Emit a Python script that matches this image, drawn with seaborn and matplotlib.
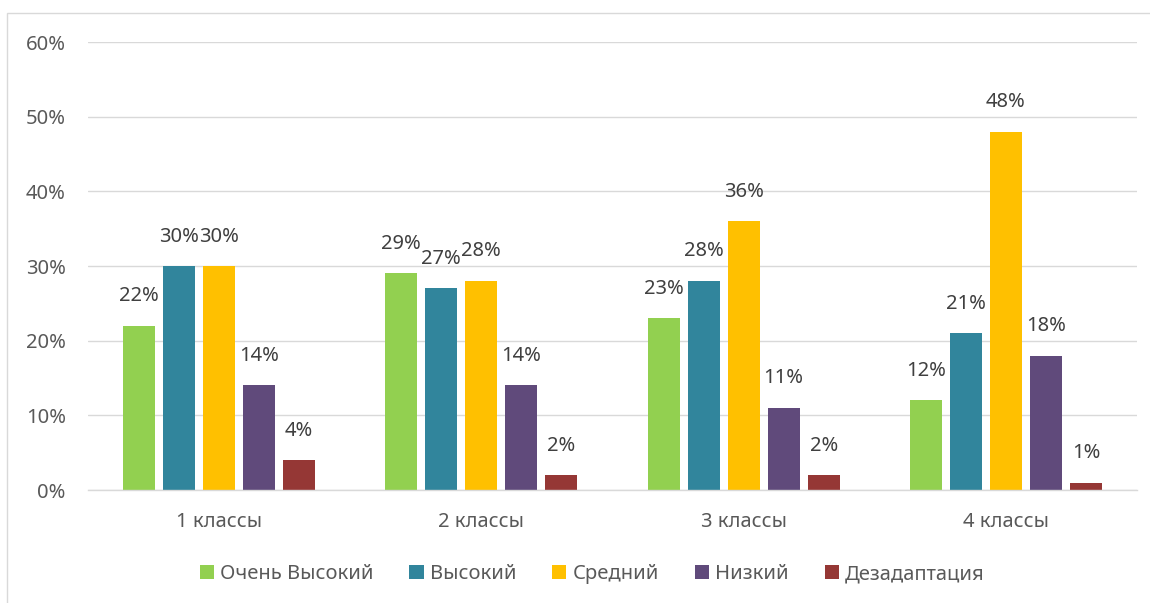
import numpy as np
import pandas as pd
import matplotlib
matplotlib.use("Agg")
import matplotlib.pyplot as plt
from matplotlib.patches import Rectangle
from matplotlib.ticker import FixedLocator, FuncFormatter
import seaborn as sns

# ---- data ----
classes = ["1 классы", "2 классы", "3 классы", "4 классы"]
levels = ["Очень Высокий", "Высокий", "Средний", "Низкий", "Дезадаптация"]
very_high = [22, 29, 23, 12]
high = [30, 27, 28, 21]
medium = [30, 28, 36, 48]
low = [14, 14, 11, 18]
maladapt = [4, 2, 2, 1]
colors = ["#92D050", "#31859C", "#FFC000", "#604A7B", "#953735"]

series = [very_high, high, medium, low, maladapt]
df = pd.DataFrame(
    [(c, lv, v) for lv, vals in zip(levels, series) for c, v in zip(classes, vals)],
    columns=["cls", "level", "value"],
)

sns.set_theme(style="white")
plt.rcParams["font.family"] = ["Noto Sans", "DejaVu Sans"]

FS = 14.5

fig = plt.figure(figsize=(11.5, 6.03), dpi=100)
ax = fig.add_axes([88 / 1150, 1 - 490 / 603, (1137 - 88) / 1150, (490 - 42) / 603])

sns.barplot(
    data=df, x="cls", y="value", hue="level",
    order=classes, hue_order=levels, palette=colors,
    width=0.763, gap=0.2, saturation=1, legend=True, ax=ax,
    linewidth=0, edgecolor="none",
)

for cont in ax.containers:
    ax.bar_label(cont, labels=[f"{v:.0f}%" for v in cont.datavalues],
                 padding=14, fontsize=FS, color="#404040")

ax.set_ylim(0, 60)
ax.set_xlim(-0.5, 3.5)
ax.set_yticks(np.arange(0, 61, 10))
ax.yaxis.set_major_formatter(FuncFormatter(lambda v, p: f"{v:.0f}%"))
ax.grid(axis="y", color="#d9d9d9", linewidth=1)
ax.set_axisbelow(True)
ax.set_xlabel("")
ax.set_ylabel("")

for s in ["top", "right", "left"]:
    ax.spines[s].set_visible(False)
ax.spines["bottom"].set_color("#d9d9d9")
ax.spines["bottom"].set_linewidth(1)

ax.tick_params(axis="y", length=0, pad=16, labelsize=FS, labelcolor="#595959")
ax.tick_params(axis="x", which="major", length=0, pad=16, labelsize=FS, labelcolor="#595959")
ax.xaxis.set_minor_locator(FixedLocator([-0.5, 0.5, 1.5, 2.5, 3.5]))
ax.tick_params(axis="x", which="minor", length=5, color="#d9d9d9", width=1)

ax.get_legend().remove()
handles, labels = ax.get_legend_handles_labels()
fig.legend(handles[:5], labels[:5], loc="center", bbox_to_anchor=(0.515, 1 - 574 / 603),
           ncol=5, frameon=False, fontsize=FS, labelcolor="#595959",
           handlelength=0.7, handleheight=0.7, handletextpad=0.3, columnspacing=1.8)

# chart frame
fig.patches.append(Rectangle((7 / 1150, -0.01), 1.1, (603 - 13) / 603 + 0.01,
                             transform=fig.transFigure, fill=False,
                             edgecolor="#d9d9d9", linewidth=1))

fig.savefig("out.png", dpi=100)
